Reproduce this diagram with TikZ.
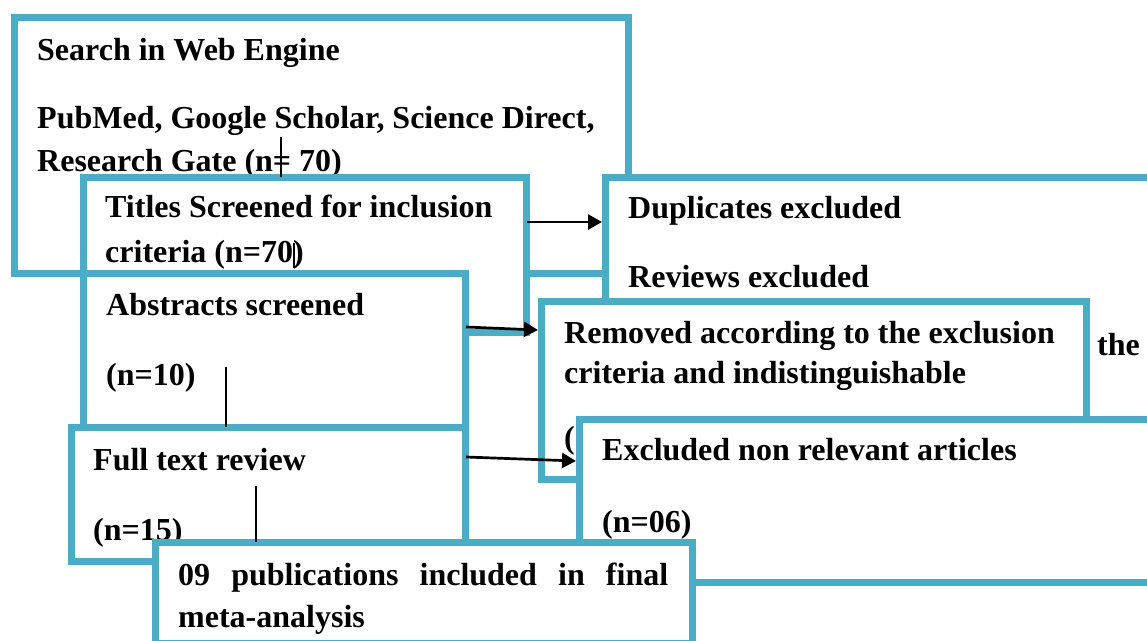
\documentclass[tikz,border=0pt]{standalone}
\usepackage{fontspec}
\setmainfont{Liberation Serif}
\usetikzlibrary{arrows.meta,calc}
\definecolor{boxblue}{HTML}{4BACC6}
\begin{document}
\begin{tikzpicture}[x=1pt,y=-1pt,
  box/.style={draw=boxblue, line width=7pt, fill=white, inner sep=0pt, outer sep=0pt, anchor=north west},
  txt/.style={anchor=base west, inner sep=0pt, font=\fontsize{32}{38}\selectfont\bfseries},
  arr/.style={line width=2.7pt, -{Triangle[length=14pt,width=15pt]}},
  vline/.style={line width=2pt}]
\clip (0,0) rectangle (1147,640);
\fill[white] (0,0) rectangle (1147,640);
% Search box
\node[box, minimum width=613.5pt, minimum height=256pt] (search) at (14.5,17) {};
\node[txt] (s1) at (37,60) {Search in Web Engine};
\node[txt] (s2) at (37,128) {PubMed, Google Scholar, Science Direct,};
\node[txt] (s3) at (37,171) {Research Gate (n= 70)};
\coordinate (v1) at (281,137);
% Titles box
\node[box, minimum width=443pt, minimum height=155pt] (titles) at (83,177) {};
\draw[vline] (v1) -- (v1 |- titles.north);
\node[txt] (t1) at (105,217) {Titles Screened for inclusion};
\node[txt] (t2) at (105,262) {criteria (n=70)};
\coordinate (v2a) at (294,243);
\coordinate (v2b) at (294,268);
\draw[vline] (v2a) -- (v2b);
% Duplicates box
\node[box, minimum width=560pt, minimum height=263pt] (dup) at (605,177) {};
\node[txt] (d1) at (628,218) {Duplicates excluded};
\node[txt] (d2) at (628,287) {Reviews excluded};
\node[txt] (d3) at (1097,355) {the};
\draw[arr] ($(titles.north east)+(1,45)$) -- ($(dup.north west)+(-3,45)$);
% Abstracts box
\node[box, minimum width=382pt, minimum height=154pt] (abs) at (83,273) {};
\node[txt] (ab1) at (106,315) {Abstracts screened};
\node[txt] (ab2) at (106,385) {(n=10)};
% Removed box
\node[box, minimum width=545pt, minimum height=178pt] (rem) at (541,301) {};
\node[txt] (r1) at (564,343) {Removed according to the exclusion};
\node[txt] (r2) at (564,383) {criteria and indistinguishable};
\node[txt] (r3) at (564,448) {(};
\draw[arr] ($(abs.north east)+(1,54)$) -- ($(rem.north west)+(-3,29)$);
% Full text box
\node[box, minimum width=394pt, minimum height=134pt] (full) at (71,427) {};
\coordinate (v3) at (226,367);
\draw[vline] (v3) -- (v3 |- full.north);
\node[txt] (f1) at (93,470) {Full text review};
\node[txt] (f2) at (93,540) {(n=15)};
% Excluded box
\node[box, minimum width=586pt, minimum height=163pt] (exc) at (579,419) {};
\node[txt] (e1) at (602,460) {Excluded non relevant articles};
\node[txt] (e2) at (602,532) {(n=06)};
\draw[arr] ($(full.north east)+(1,30)$) -- ($(exc.north west)+(-3,42)$);
% Final box
\node[box, minimum width=537pt, minimum height=101pt] (final) at (155,542) {};
\coordinate (v4) at (256,486);
\draw[vline] (v4) -- (v4 |- final.north);
\node[txt] (p1) at (178,585) {\makebox[490pt][s]{09 publications included in final}};
\node[txt] (p2) at (178,627) {meta-analysis};
\end{tikzpicture}
\end{document}
